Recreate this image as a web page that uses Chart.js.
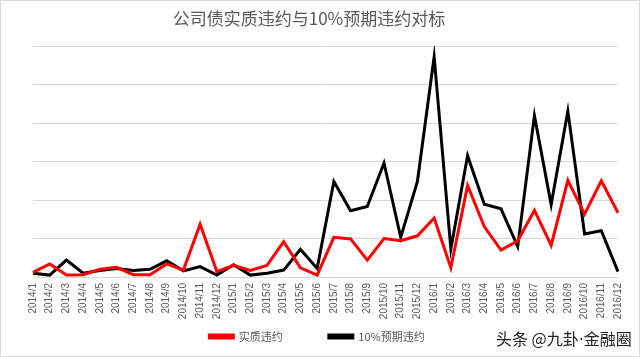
<!DOCTYPE html>
<html>
<head>
<meta charset="utf-8">
<script src="https://cdn.jsdelivr.net/npm/chart.js@4.4.1/dist/chart.umd.min.js"></script>
<style>
  html, body { margin: 0; padding: 0; background: #fff; }
  #wrap { position: relative; width: 640px; height: 357px; }
  #frame { position: absolute; left: 0; top: 0; width: 638px; height: 355px; border: 1px solid #d9d9d9; pointer-events: none; }
  #wm { position: absolute; left: 496px; top: 326px; font: 16px "Noto Sans CJK SC", sans-serif; color: #222; white-space: nowrap; }
  #wm .dot { font-family: "DejaVu Sans", sans-serif; }
</style>
</head>
<body>
<div id="wrap">
  <canvas id="c" width="640" height="357"></canvas>
  <div id="frame"></div>
  <div id="wm">头条 @九卦<span class="dot">·</span>金融圈</div>
</div>
<script>
const categories = ["2014/1","2014/2","2014/3","2014/4","2014/5","2014/6","2014/7","2014/8","2014/9","2014/10","2014/11","2014/12",
  "2015/1","2015/2","2015/3","2015/4","2015/5","2015/6","2015/7","2015/8","2015/9","2015/10","2015/11","2015/12",
  "2016/1","2016/2","2016/3","2016/4","2016/5","2016/6","2016/7","2016/8","2016/9","2016/10","2016/11","2016/12"];
const actualDefault = [0.12,0.34,0.05,0.06,0.20,0.25,0.06,0.06,0.34,0.18,1.37,0.14,
  0.30,0.17,0.30,0.92,0.24,0.05,1.03,0.99,0.44,1.00,0.94,1.07,
  1.53,0.24,2.38,1.31,0.70,0.94,1.73,0.82,2.51,1.63,2.50,1.67];
const expectedDefault = [0.10,0.05,0.44,0.10,0.17,0.22,0.17,0.20,0.42,0.16,0.27,0.05,
  0.32,0.05,0.10,0.18,0.72,0.22,2.48,1.72,1.83,2.96,1.03,2.48,
  5.72,0.73,3.15,1.89,1.77,0.79,4.19,1.88,4.31,1.12,1.20,0.14];
const seriesNames = ["实质违约", "10%预期违约"];
const titleText = "公司债实质违约与10%预期违约对标";

const LEGEND_PAD = 46;
const legendShift = {
  id: 'legendShift',
  afterLayout(chart) {
    const L = chart.legend;
    if (!L) return;
    L.top = 331 - LEGEND_PAD;
    L.bottom = chart.height;
    L.height = L.bottom - L.top;
    L.left += 16;
    L.width = L.right - L.left;
  }
};

new Chart(document.getElementById('c'), {
  type: 'line',
  data: {
    labels: categories,
    datasets: [
      { label: seriesNames[0], data: actualDefault, borderColor: '#ff0000', backgroundColor: '#ff0000', borderWidth: 3, pointRadius: 0, tension: 0 },
      { label: seriesNames[1], data: expectedDefault, borderColor: '#000000', backgroundColor: '#000000', borderWidth: 3, pointRadius: 0, tension: 0 }
    ]
  },
  plugins: [legendShift],
  options: {
    responsive: false,
    animation: false,
    layout: { padding: { left: 0, right: 22, top: 0, bottom: 10 } },
    plugins: {
      title: { display: true, text: titleText, color: '#595959', font: { size: 17, family: '"Noto Sans CJK SC", sans-serif', weight: 'normal' }, padding: { top: 8, bottom: 17.6 } },
      legend: {
        position: 'bottom',
        maxHeight: 25,
        labels: { boxWidth: 24, boxHeight: 3, padding: LEGEND_PAD, color: '#595959', font: { size: 11, family: '"Noto Sans CJK SC", sans-serif' } }
      },
      tooltip: { enabled: false }
    },
    scales: {
      x: {
        grid: { display: false, drawTicks: false },
        border: { display: true, color: '#d9d9d9', width: 1 },
        ticks: { minRotation: 90, maxRotation: 90, autoSkip: false, padding: 6, color: '#595959', font: { size: 10, family: '"Liberation Sans", Arial, sans-serif' } },
        afterFit: (s) => { s.height = 45; }
      },
      y: {
        min: 0, max: 6,
        ticks: { display: false, stepSize: 1 },
        grid: { color: '#d9d9d9', lineWidth: 1, drawTicks: false },
        border: { display: false },
        afterFit: (s) => { s.width = 33; }
      }
    }
  }
});
</script>
</body>
</html>
